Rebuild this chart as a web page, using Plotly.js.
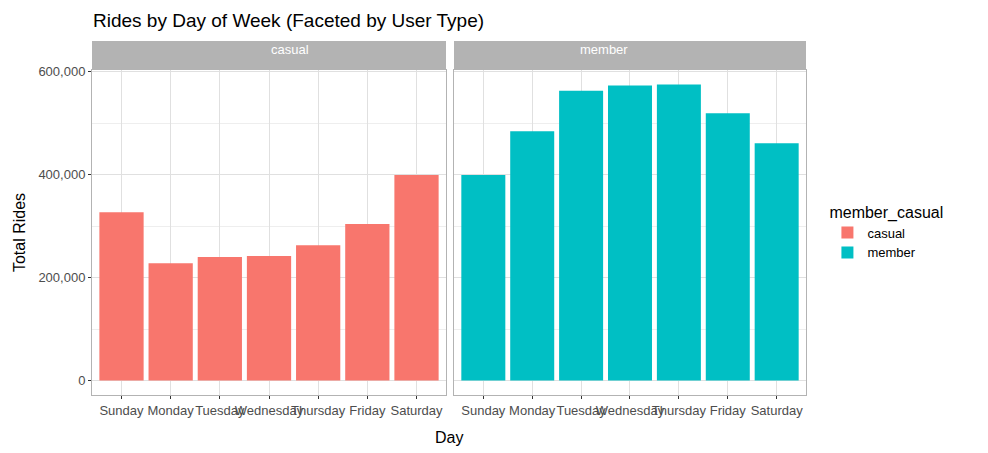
<!DOCTYPE html>
<html><head><script src="https://cdn.plot.ly/plotly-3.0.1.min.js"></script></head>
<body style="margin:0"><div id="c" style="width:988px;height:453px"></div>
<script>
const days = ["Sunday","Monday","Tuesday","Wednesday","Thursday","Friday","Saturday"];
const casualRides = [327000,228000,240000,242000,263000,304000,399000];
const memberRides = [399000,484000,563000,573000,575000,519000,461000];
const yTicks = [0,200000,400000,600000];
const yTickText = ["0","200,000","400,000","600,000"];
const dTop = 0.918;
const traces = [
 {type:"bar",x:days,y:casualRides,name:"casual",marker:{color:"#F8766D"},xaxis:"x",yaxis:"y",width:0.9},
 {type:"bar",x:days,y:memberRides,name:"member",marker:{color:"#00BFC4"},xaxis:"x2",yaxis:"y2",width:0.9}
];
const ax = {showgrid:true,gridcolor:"#e0e0e0",linecolor:"#b3b3b3",mirror:true,showline:true,ticks:"outside",ticklen:3,tickcolor:"#333",tickfont:{family:"Liberation Sans, Arial",size:13,color:"#4d4d4d"},zeroline:false,fixedrange:true};
const xax = Object.assign({},ax,{tickangle:0,range:[-0.6,6.6],type:"category"});
const yax = Object.assign({},ax,{range:[-28000,603000],tickvals:yTicks,ticktext:yTickText,domain:[0,dTop],minor:{tickvals:[100000,300000,500000],showgrid:true,gridcolor:"#eeeeee"}});
const layout = {
 width:988,height:453,margin:{l:92,r:182,t:41,b:58},paper_bgcolor:"white",plot_bgcolor:"white",
 title:{text:"Rides by Day of Week (Faceted by User Type)",x:93/988,xanchor:"left",y:0.955,yanchor:"middle",font:{family:"Liberation Sans, Arial",size:19,color:"#000"}},
 xaxis:Object.assign({},xax,{domain:[0,0.4958],anchor:"y"}),
 xaxis2:Object.assign({},xax,{domain:[0.507,1],anchor:"y2"}),
 yaxis:Object.assign({},yax,{anchor:"x",title:{text:"Total Rides",font:{family:"Liberation Sans, Arial",size:16,color:"#000"},standoff:8}}),
 yaxis2:Object.assign({},yax,{anchor:"x2",showticklabels:false,ticks:""}),
 annotations:[
  {text:"Day",xref:"paper",yref:"paper",x:0.5,y:-0.09,yanchor:"top",showarrow:false,font:{family:"Liberation Sans, Arial",size:16,color:"#000"}},
  {text:"casual",xref:"paper",yref:"paper",x:0.2479,y:(dTop+1)/2,yanchor:"middle",yshift:6,showarrow:false,font:{family:"Liberation Sans, Arial",size:13,color:"white"}},
  {text:"member",xref:"paper",yref:"paper",x:0.7535,y:(dTop+1)/2,yanchor:"middle",yshift:6,showarrow:false,font:{family:"Liberation Sans, Arial",size:13,color:"white"}}
 ],
 shapes:[
  {type:"rect",xref:"paper",yref:"paper",x0:0,x1:0.4958,y0:dTop,y1:1,fillcolor:"#b3b3b3",line:{width:0}},
  {type:"rect",xref:"paper",yref:"paper",x0:0.507,x1:1,y0:dTop,y1:1,fillcolor:"#b3b3b3",line:{width:0}}
 ],
 legend:{title:{text:"member_casual",font:{family:"Liberation Sans, Arial",size:16,color:"#000"}},x:1.03,xanchor:"left",y:0.56,yanchor:"top",font:{family:"Liberation Sans, Arial",size:13,color:"#000"}},
 showlegend:true
};
Plotly.newPlot("c",traces,layout,{displayModeBar:false});
</script></body></html>
